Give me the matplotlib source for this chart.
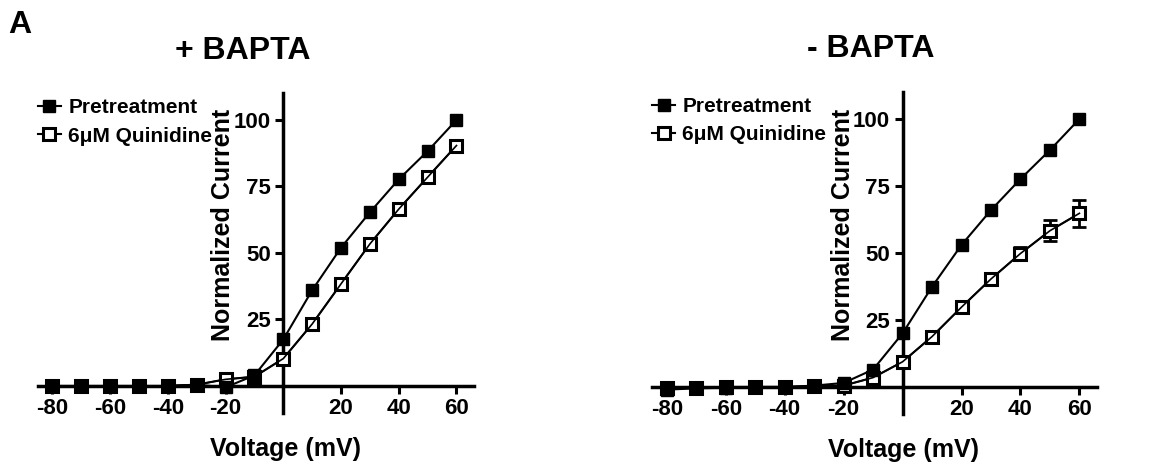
import matplotlib
matplotlib.use("Agg")
import matplotlib.pyplot as plt
import numpy as np

plt.rcParams['font.family'] = ['Liberation Sans', 'DejaVu Sans']
plt.rcParams['font.weight'] = 'bold'
plt.rcParams['axes.unicode_minus'] = False

voltage = [-80, -70, -60, -50, -40, -30, -20, -10, 0, 10, 20, 30, 40, 50, 60]

plus_pre = [0, 0, 0, 0, 0, 0.5, -0.5, 4, 17.5, 36, 52, 65.3, 77.7, 88.3, 100]
plus_quin = [0, 0, 0, 0, 0, 0.5, 2.5, 3.5, 10.3, 23.3, 38.4, 53.4, 66.5, 78.5, 90.4]
plus_quin_err = [0, 0, 0, 0, 0, 0, 0, 0, 0, 0, 0, 0, 0, 0, 0]

minus_pre = [-1, -0.5, -0.3, 0, 0, 0.5, 1.5, 6.5, 20, 37.4, 53, 66, 77.6, 88.4, 100]
minus_quin = [-0.5, -0.3, 0, 0, 0, 0.3, 0.5, 3.5, 9.4, 18.8, 29.8, 40.3, 49.8, 58.3, 64.8]
minus_quin_err = [0, 0, 0, 0, 0, 0, 0, 0, 0.5, 1, 1, 1.5, 2.5, 3.9, 5]

xticks = [-80, -60, -40, -20, 20, 40, 60]
yticks = [25, 50, 75, 100]
labels = ['Pretreatment', '6\u03bcM Quinidine']
titles = ['+ BAPTA', '- BAPTA']

fig = plt.figure(figsize=(11.5, 4.67), dpi=100)
ax1 = fig.add_axes([0.033, 0.1165, 0.379, 0.6835])
ax2 = fig.add_axes([0.567, 0.114, 0.387, 0.6886])

datasets = [(ax1, plus_pre, plus_quin, plus_quin_err, titles[0], 0.452, 0.567, 0.47),
            (ax2, minus_pre, minus_quin, minus_quin_err, titles[1], 0.455, 0.565, 0.492)]

for ax, pre, quin, qerr, title, ylx, xlx, tx in datasets:
    ax.errorbar(voltage, quin, yerr=qerr, fmt='none', ecolor='black',
                elinewidth=2, capsize=5, capthick=2, zorder=2)
    ax.plot(voltage, quin, color='black', lw=1.5, marker='s', ms=8.5,
            mfc='white', mec='black', mew=2.2, zorder=3, label=labels[1])
    ax.plot(voltage, pre, color='black', lw=1.5, marker='s', ms=8.5,
            mfc='black', mec='black', zorder=4, label=labels[0])
    ax.plot(voltage, quin, color='black', lw=1.2, zorder=5)

    ax.set_xlim(-85, 66)
    ax.set_ylim(-10, 110)
    for s in ['top', 'right']:
        ax.spines[s].set_visible(False)
    ax.spines['left'].set_position(('data', 0))
    ax.spines['bottom'].set_position(('data', 0))
    ax.spines['left'].set_linewidth(2.5)
    ax.spines['bottom'].set_linewidth(2.5)
    ax.set_xticks(xticks)
    ax.set_yticks(yticks)
    ax.tick_params(axis='both', direction='out', length=6, width=2.2,
                   labelsize=16, pad=3)
    for lab in ax.get_xticklabels() + ax.get_yticklabels():
        lab.set_fontweight('bold')
    ax.set_ylabel('Normalized Current', fontsize=18, fontweight='bold')
    ax.yaxis.set_label_coords(ylx, 0.588)
    ax.set_xlabel('Voltage (mV)', fontsize=18, fontweight='bold', va='top')
    ax.xaxis.set_label_coords(xlx, -0.076)
    ax.set_title(title, fontsize=23, fontweight='bold', pad=25, x=tx)
    h, l = ax.get_legend_handles_labels()
    ax.legend(h[::-1], l[::-1], loc='upper left', bbox_to_anchor=(0.0, 0.985),
              frameon=False, handlelength=1.1, handletextpad=0.35,
              labelspacing=0.45, borderaxespad=0, borderpad=0,
              prop={'size': 15, 'weight': 'bold'})

fig.text(0.007, 0.946, 'A', fontsize=23, fontweight='bold', va='center')

fig.savefig('out.png', dpi=100)
